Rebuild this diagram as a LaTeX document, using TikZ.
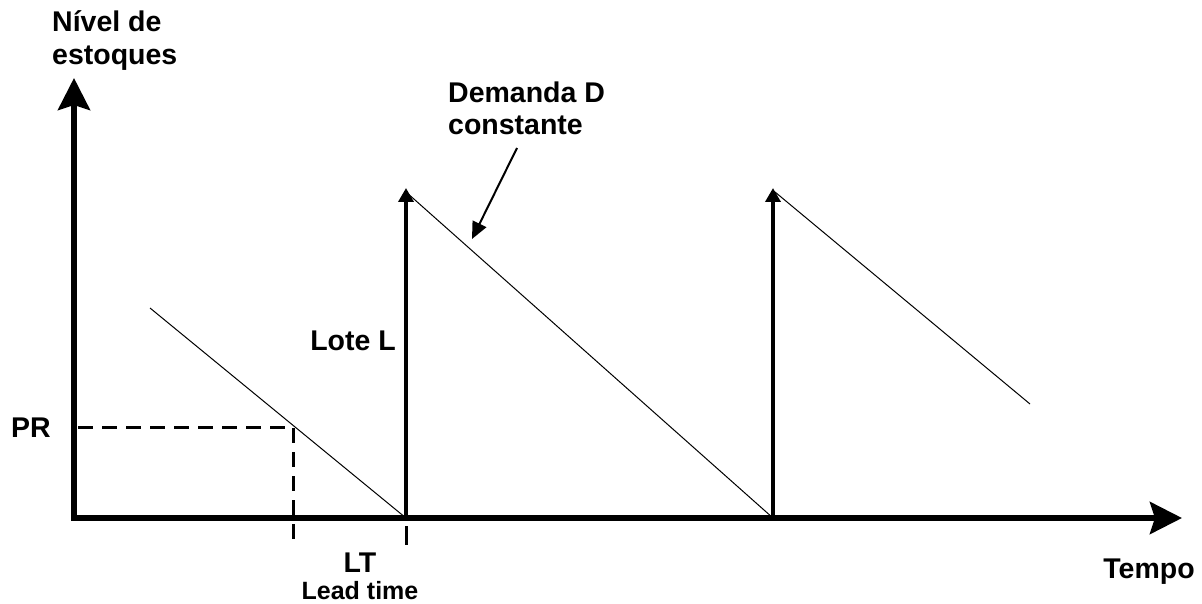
\documentclass[tikz,border=0pt]{standalone}
\usepackage{fontspec}
\setmainfont{Liberation Sans}
\usetikzlibrary{arrows.meta}
\begin{document}
\begin{tikzpicture}[x=1pt,y=-1pt,
  lbl/.style={font=\fontsize{28.5}{33}\selectfont\bfseries, inner sep=0pt, anchor=base},
  lblw/.style={lbl, anchor=base west},
  small/.style={font=\fontsize{25}{30}\selectfont\bfseries, inner sep=0pt, anchor=base},
  axis/.style={line width=5.5pt, -{Stealth[length=32pt,width=32pt,inset=5pt]}},
  lot/.style={line width=4pt, -{Triangle[length=14pt,width=15pt]}},
  dem/.style={line width=1pt},
  dsh/.style={line width=3pt, dash pattern=on 15pt off 9pt},
  note/.style={line width=2pt, -{Triangle[length=17pt,width=15pt]}}]
\useasboundingbox (0,0) rectangle (1202,604);
% coordinates
\coordinate (O) at (74,518);
\coordinate (Ytip) at (74,78);
\coordinate (Xtip) at (1182,518);
\coordinate (a1) at (150,308);
\coordinate (z1) at (406,518);
\coordinate (t1) at (406,188);
\coordinate (s1) at (406,192);
\coordinate (z2) at (773,518);
\coordinate (t2) at (773,188);
\coordinate (s2) at (775,192);
\coordinate (e3) at (1030,404);
\coordinate (pr) at (293,427);
\coordinate (prl) at (78,427);
\coordinate (prb) at (293,545);
\coordinate (ltt) at (406,526);
\coordinate (ltb) at (406,545);
\coordinate (nS) at (517,148);
\coordinate (nE) at (472,239);
% axes
\draw[axis] ([yshift=3pt]O) -- (Ytip);
\draw[axis] ([xshift=-3pt]O) -- (Xtip);
% demand lines
\draw[dem] (a1) -- (z1);
\draw[dem] (s1) -- (z2);
\draw[dem] (s2) -- (e3);
% lot arrows
\draw[lot] (z1) -- (t1);
\draw[lot] (z2) -- (t2);
% dashed
\draw[dsh] (prl) -- (pr) -- (prb);
\draw[line width=3pt] (ltt) -- (ltb);
% annotation
\draw[note] (nS) -- (nE);
% labels
\node[lblw] (ylab1) at (52,32) {Nível de};
\node[lblw] (ylab2) at (52,65) {estoques};
\node[lblw] (dlab1) at (448,103) {Demanda D};
\node[lblw] (dlab2) at (448,135) {constante};
\node[lbl] (lote) at (353,350) {Lote L};
\node[lbl] (prlab) at (31,437) {PR};
\node[lbl] (lt) at (360,572) {LT};
\node[small] (lead) at (360,599) {Lead time};
\node[lbl] (tempo) at (1149,578) {Tempo};
\end{tikzpicture}
\end{document}
